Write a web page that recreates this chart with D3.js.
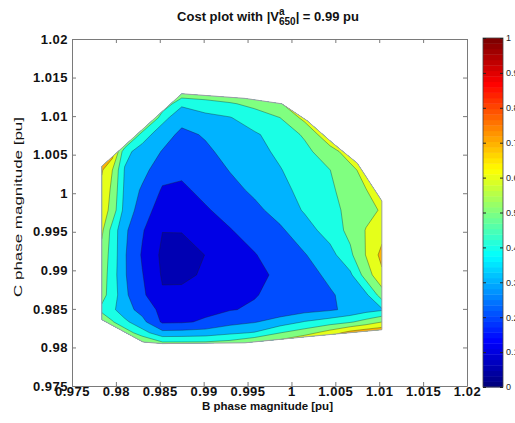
<!DOCTYPE html>
<html><head><meta charset="utf-8">
<script src="https://cdn.jsdelivr.net/npm/d3@7"></script>
<style>
body{margin:0;background:#fff;}
svg text{font-family:"Liberation Sans",Arial,Helvetica,sans-serif;}
</style></head><body>
<svg id="chart" width="515" height="423"></svg>
<script>
// ---- data ----
const bPhase = [0.9784,0.9796,0.9810,0.9830,0.9853,0.9875,0.9902,0.9930,0.9958,0.9987,1.0015,1.0044,1.0067,1.0085,1.0103];
const cPhase = [1.0129,1.0116,1.0098,1.0076,1.0054,1.0030,1.0004,0.9978,0.9952,0.9920,0.9894,0.9868,0.9849,0.9833,0.9819,0.9805];
const cost = [
 [0.90,0.90,0.88,0.80,0.70,0.56,0.56,0.575,0.575,0.68,0.75,0.80,0.85,0.85,0.85],
 [0.90,0.88,0.82,0.72,0.585,0.42,0.46,0.49,0.525,0.59,0.70,0.78,0.83,0.85,0.85],
 [0.90,0.90,0.85,0.76,0.436,0.33,0.37,0.395,0.455,0.50,0.63,0.80,0.85,0.85,0.85],
 [0.90,0.85,0.75,0.45,0.338,0.28,0.308,0.348,0.387,0.443,0.513,0.68,0.80,0.85,0.85],
 [0.85,0.76,0.43,0.356,0.295,0.25,0.285,0.326,0.37,0.418,0.473,0.559,0.65,0.75,0.80],
 [0.71,0.60,0.393,0.334,0.235,0.219,0.251,0.304,0.349,0.395,0.446,0.499,0.571,0.64,0.72],
 [0.67,0.58,0.38,0.285,0.19,0.183,0.225,0.27,0.318,0.373,0.428,0.484,0.543,0.597,0.66],
 [0.66,0.56,0.364,0.249,0.15,0.144,0.19,0.233,0.277,0.336,0.41,0.472,0.524,0.569,0.61],
 [0.62,0.46,0.32,0.21,0.102,0.106,0.149,0.195,0.239,0.285,0.356,0.445,0.527,0.605,0.66],
 [0.56,0.46,0.31,0.19,0.08,0.05,0.102,0.149,0.195,0.245,0.294,0.364,0.48,0.605,0.73],
 [0.55,0.45,0.31,0.205,0.09,0.07,0.118,0.149,0.179,0.216,0.264,0.32,0.38,0.548,0.68],
 [0.53,0.46,0.32,0.22,0.11,0.133,0.148,0.17,0.195,0.226,0.257,0.289,0.332,0.38,0.55],
 [0.48,0.42,0.34,0.265,0.17,0.165,0.181,0.195,0.212,0.237,0.263,0.288,0.32,0.36,0.385],
 [0.56,0.51,0.425,0.33,0.185,0.19,0.211,0.265,0.294,0.344,0.407,0.45,0.49,0.54,0.60],
 [0.75,0.70,0.56,0.44,0.33,0.334,0.346,0.38,0.407,0.498,0.555,0.65,0.74,0.78,0.80],
 [0.80,0.75,0.70,0.63,0.53,0.53,0.53,0.55,0.62,0.66,0.75,0.80,0.85,0.85,0.85]
];
// feasible region boundary (B, C)
const hullB = [0.9784,0.9784,0.9875,0.9947,0.9989,1.0018,1.0047,1.0075,1.0103,1.0103,1.0018,0.9947,0.9853,0.9831,0.9818];
const hullC = [0.9836,1.0035,1.0129,1.0123,1.0116,1.0094,1.0065,1.0039,0.9990,0.9823,0.9814,0.9806,0.9805,0.9807,0.9815];
const levels = [0.1,0.2,0.3,0.4,0.5,0.6,0.7,0.8,0.9];
const axisTicks = [0.975,0.98,0.985,0.99,0.995,1,1.005,1.01,1.015,1.02];
const axisTickLabels = ["0.975","0.98","0.985","0.99","0.995","1","1.005","1.01","1.015","1.02"];
const cbTicks = [0,0.1,0.2,0.3,0.4,0.5,0.6,0.7,0.8,0.9,1];
const cbTickLabels = ["0","0.1","0.2","0.3","0.4","0.5","0.6","0.7","0.8","0.9","1"];

// ---- helpers ----
function jet(t){
  const c = v => Math.max(0, Math.min(1, v));
  return d3.rgb(255*c(1.5-Math.abs(4*t-3)), 255*c(1.5-Math.abs(4*t-2)), 255*c(1.5-Math.abs(4*t-1))).formatHex();
}

const svg = d3.select("#chart");
const L = 72, R = 467, T = 39, B = 386;
const xS = d3.scaleLinear().domain([0.975,1.02]).range([L,R]);
const yS = d3.scaleLinear().domain([0.975,1.02]).range([B,T]);

// grid index -> data coordinate
const n = bPhase.length, m = cPhase.length;
const ix = d3.scaleLinear().domain(d3.range(n)).range(bPhase);
const iy = d3.scaleLinear().domain(d3.range(m)).range(cPhase);
const proj = d3.geoTransform({point(px, py){ this.stream.point(xS(ix(px-0.5)), yS(iy(py-0.5))); }});
const path = d3.geoPath(proj);

const hullPts = hullB.map((b,i)=>[xS(b), yS(hullC[i])]);
svg.append("defs").append("clipPath").attr("id","hull")
  .append("polygon").attr("points", hullPts.map(p=>p.join(",")).join(" "));

const flat = cost.flat();
const minCost = d3.min(flat);
const bands = d3.contours().size([n,m]).thresholds([-1, ...levels])(flat);

const gPlot = svg.append("g").attr("clip-path","url(#hull)");
bands.forEach((b,i)=>{
  gPlot.append("path").attr("d", path(b))
    .attr("fill", jet(i===0 ? minCost : b.value))
    .attr("stroke", i===0 ? "none" : "#1e1e1e")
    .attr("stroke-width", 0.5)
    .attr("stroke-opacity", 0.7)
    .attr("stroke-linejoin","round");
});
svg.append("polygon").attr("points", hullPts.map(p=>p.join(",")).join(" "))
  .attr("fill","none").attr("stroke","#a0a0a0").attr("stroke-width",1);

// ---- axes ----
const axColor = "#7a7a7a";
function styleAxis(g, fontSize, weight){
  g.select(".domain").attr("stroke", axColor);
  g.selectAll(".tick line").attr("stroke", axColor);
  g.selectAll(".tick text").attr("fill","#111").style("font-size", fontSize).style("font-weight", weight)
    .style("font-family",'"Liberation Sans",Arial,sans-serif');
}
const fmt = (d,i)=>axisTickLabels[i];
svg.append("g").attr("transform",`translate(0,${B})`)
  .call(d3.axisBottom(xS).tickValues(axisTicks).tickFormat(fmt).tickSize(-4).tickSizeOuter(0).tickPadding(1))
  .call(g=>styleAxis(g,"13px","bold"))
  .call(g=>g.selectAll(".tick text").style("letter-spacing","0.5px"));
svg.append("g").attr("transform",`translate(0,${T})`)
  .call(d3.axisTop(xS).tickValues(axisTicks).tickFormat("").tickSize(-4).tickSizeOuter(0))
  .call(g=>styleAxis(g,"13px","bold"));
svg.append("g").attr("transform",`translate(${L},0)`)
  .call(d3.axisLeft(yS).tickValues(axisTicks).tickFormat(fmt).tickSize(-4).tickSizeOuter(0).tickPadding(4))
  .call(g=>styleAxis(g,"13px","bold"))
  .call(g=>g.selectAll(".tick text").style("letter-spacing","0.5px"));
svg.append("g").attr("transform",`translate(${R},0)`)
  .call(d3.axisRight(yS).tickValues(axisTicks).tickFormat("").tickSize(-4).tickSizeOuter(0))
  .call(g=>styleAxis(g,"13px","bold"));

// axis labels
svg.append("text").attr("x", (L+R)/2 - 2).attr("y", 410).attr("text-anchor","middle")
  .style("font-size","11.5px").style("font-weight","bold").attr("fill","#111")
  .text("B phase magnitude [pu]");
svg.append("text").attr("transform","translate(22,207) rotate(-90)").attr("text-anchor","middle")
  .style("font-size","11px").attr("fill","#111")
  .attr("textLength",180).attr("lengthAdjust","spacingAndGlyphs")
  .text("C phase magnitude [pu]");

// title
const title = svg.append("text").attr("x", 268).attr("y", 21).attr("text-anchor","middle")
  .style("font-size","13px").style("font-weight","bold").attr("fill","#111");
title.append("tspan").text("Cost plot with |V");
title.append("tspan").attr("dy",-6).style("font-size","10px").text("a");
title.append("tspan").attr("dx",-5.6).attr("dy",10).style("font-size","10px").text("650");
title.append("tspan").attr("dy",-4).text("| = 0.99 pu");

// ---- colorbar ----
const cbL = 483, cbR = 503;
const cbY = d3.scaleLinear().domain([0,1]).range([387,38]);
const nC = 64;
svg.append("g").selectAll("rect").data(d3.range(nC)).join("rect")
  .attr("x", cbL).attr("width", cbR-cbL)
  .attr("y", k=>cbY((k+1)/nC)).attr("height", k=>cbY(k/nC)-cbY((k+1)/nC)+0.4)
  .attr("fill", k=>jet(k/(nC-1)));
svg.append("rect").attr("x",cbL).attr("y",cbY(1)).attr("width",cbR-cbL).attr("height",cbY(0)-cbY(1))
  .attr("fill","none").attr("stroke","#444").attr("stroke-width",0.8);
svg.append("g").attr("transform",`translate(${cbR},0)`)
  .call(d3.axisRight(cbY).tickValues(cbTicks).tickFormat((d,i)=>cbTickLabels[i]).tickSize(-3).tickSizeOuter(0).tickPadding(3))
  .call(g=>{ g.select(".domain").remove(); g.selectAll(".tick line").attr("stroke","#222");
    g.selectAll(".tick text").attr("fill","#222").style("font-size","9px"); });
svg.append("g").attr("transform",`translate(${cbL},0)`)
  .call(d3.axisLeft(cbY).tickValues(cbTicks).tickFormat("").tickSize(-3).tickSizeOuter(0))
  .call(g=>{ g.select(".domain").remove(); g.selectAll(".tick line").attr("stroke","#222"); });
</script>
</body></html>
